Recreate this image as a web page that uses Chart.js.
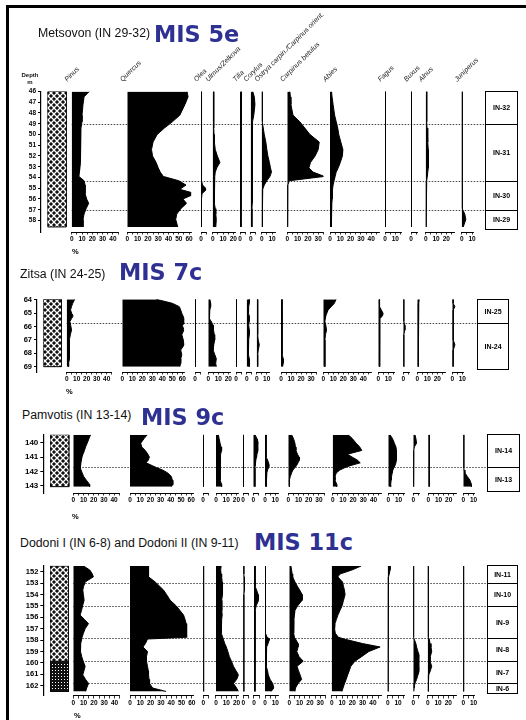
<!DOCTYPE html>
<html><head><meta charset="utf-8">
<script src="https://cdn.jsdelivr.net/npm/chart.js@4.4.1/dist/chart.umd.min.js"></script>
<style>
html,body{margin:0;padding:0;background:#fff;}
body{width:526px;height:720px;position:relative;overflow:hidden;font-family:"Liberation Sans",Arial,sans-serif;}
#frame{position:absolute;left:6px;top:5px;width:560px;height:760px;border-top:3px solid #000;border-left:3px solid #000;box-sizing:border-box;}
canvas{position:absolute;left:0;z-index:2;}
.site{position:absolute;font-size:12.3px;line-height:14px;color:#111;white-space:nowrap;z-index:3;}
.mis{position:absolute;font-family:"DejaVu Sans",sans-serif;font-weight:bold;font-size:22.4px;line-height:26px;color:#2e3192;white-space:nowrap;z-index:3;}
.depth{position:absolute;left:20px;top:72px;width:20px;text-align:center;font-weight:bold;font-size:6px;line-height:7px;color:#111;z-index:3;}
.unit{position:absolute;font-weight:bold;font-size:7.5px;line-height:9px;color:#000;z-index:4;}
</style></head>
<body>
<div id="frame"></div>
<div class="site" style="left:38px;top:26.3px">Metsovon (IN 29-32)</div><div class="mis" style="left:154px;top:20.7px">MIS 5e</div>
<div class="site" style="left:20px;top:266.9px">Zitsa (IN 24-25)</div><div class="mis" style="left:119px;top:259px">MIS 7c</div>
<div class="site" style="left:22px;top:408.1px">Pamvotis (IN 13-14)</div><div class="mis" style="left:141px;top:404px">MIS 9c</div>
<div class="site" style="left:20px;top:535.9px">Dodoni I (IN 6-8) and Dodoni II (IN 9-11)</div><div class="mis" style="left:254px;top:529px">MIS 11c</div>
<div class="depth">Depth<br>m</div>
<script>
// ---------- taxa & axis ticks ----------
const TAXA = ['Pinus','Quercus','Olea','Ulmus/Zelkova','Tilia','Corylus','Ostrya carpin./Carpinus orient.','Carpinus betulus','Abies','Fagus','Buxus','Alnus','Juniperus'];
const AXIS_MAX = [45,62,5,22,5,5,13,35,48,16,6,28,11];
const AXIS_LABELS = [[0,10,20,30,40],[0,10,20,30,40,50,60],[0],[0,10,20],[0],[0],[0,10],[0,10,20,30],[0,10,20,30,40],[0,10],[0],[0,10,20],[0,10]];
const UNIT_LABEL = '%';

// ---------- Metsovon (MIS 5e) ----------
const metsovonDepthTicks = [46,47,48,49,50,51,52,53,54,55,56,57,58];
const metsovonDepths = [46.0,46.5,47.2,48.2,48.8,49.4,50.0,50.7,51.4,52.0,52.6,53.1,53.5,53.9,54.3,54.7,55.1,55.5,56.0,56.4,56.9,57.4,57.9,58.6];
const metsovonPinus = [17,12,11,10,10,9,8.5,8.5,8.5,8.5,8.5,8,7.5,7,12,13,13,13,14.5,16.5,14,12,11,11];
const metsovonQuercus = [58,59,56,51,44,36,29,25,23.5,24.5,28,30,32,35,50,57,51,66,54,57.5,52,48,47,49];
const metsovonOlea = [0.5,0.5,0.5,0.5,0.5,0.5,0.5,0.5,0.5,0.5,0.5,0.5,0.5,0.5,0.6,1.5,5.5,1,0.5,0.5,0.5,0.5,0.5,0.5];
const metsovonUlmus = [1,1,1,1,1,1,1.3,1.6,2.5,4.5,7,4,2.5,2,1.5,1.5,1.5,1.5,1.5,2,2.5,3,3.5,3];
const metsovonTilia = [1.5,1.5,1.3,1.2,1,1,1,1,1,1,1,1,1,1,1,1,1,1,1,1,1,1,1,1];
const metsovonCorylus = [2,3.5,4.2,3,1.8,1.5,1.5,1.5,1.5,1.5,1.5,1.5,1.5,1.5,1.5,1.5,1.5,1.5,1.5,1.5,1.2,1.2,1.2,1.2];
const metsovonOstrya = [0.5,0.5,0.5,0.5,0.5,1.5,2.5,4,5,6,7.5,8.5,9.5,8,5,2.5,1,0.6,0.5,0.5,0.5,0.5,0.5,0.5];
const metsovonCarpinus = [2.5,3,3.5,5.5,12,17,22,31,30,27,22.5,21,25,36,2,0.5,0.3,0.3,0.3,0.3,0.3,0.3,0.3,0.3];
const metsovonAbies = [1.5,2,3,4.5,6,7.5,8.5,10.5,12.5,12,10,8,6,5,4,3,2.5,2.3,2,1.8,1.6,1.5,1.2,1];
const metsovonFagus = [0.5,0.5,0.5,0.5,0.5,0.5,0.5,0.5,0.5,0.5,0.5,0.5,0.5,0.5,0.5,0.5,0.5,0.5,0.5,0.5,0.5,0.5,0.5,0.5];
const metsovonBuxus = [0.3,0.3,0.3,0.3,0.3,0.3,0.3,0.3,0.3,0.3,0.3,0.3,0.3,0.3,0.3,0.3,0.3,0.3,0.3,0.3,0.3,0.3,0.3,0.3];
const metsovonAlnus = [1,1,1,1,1,1.3,1.8,2.2,2.5,2.5,2.6,2.5,2,1.5,1,0.5,0.3,0.3,0.3,0.3,0.3,0.3,0.3,0.3];
const metsovonJuniperus = [0.5,0.5,0.5,0.5,0.5,0.5,0.5,0.5,0.5,0.5,0.5,0.5,0.5,0.5,0.5,0.5,0.5,0.5,0.5,0.5,0.8,3,4,1.5];
const metsovonZoneEdges = [46.0,49.0,54.3,57.05,58.75];
const metsovonZoneLabels = ['IN-32','IN-31','IN-30','IN-29'];
const metsovonLithEdges = [46.0,58.6];
const metsovonLithTypes = ['A'];

// ---------- Zitsa (MIS 7c) ----------
const zitsaDepthTicks = [64,65,66,67,68,69];
const zitsaDepths = [63.95,64.25,64.5,64.75,65.0,65.2,65.4,65.62,65.9,66.25,66.6,67.0,67.35,67.75,68.1,68.4,68.75,69.0];
const zitsaPinus = [8,6,4.8,3.8,5,6.4,4.8,3.2,4,4.8,3.7,2.6,2.9,3.2,2.7,2.3,1.9,1.9];
const zitsaQuercus = [34,50,57,58.4,59.5,60.7,62,64,60,61.6,59.5,61,62,58.4,59.5,58.5,58.4,57.5];
const zitsaOlea = [0.5,0.5,0.5,0.5,0.5,0.5,0.5,0.5,0.5,0.5,0.5,0.5,0.5,0.5,0.5,0.5,0.5,0.5];
const zitsaUlmus = [1.6,2.3,2.3,1.5,1,1,1.5,3,4.8,5.2,6,6.4,5.5,4.8,6.5,8,7.4,8];
const zitsaTilia = [0.5,0.5,0.5,0.5,0.5,0.5,0.5,0.5,0.5,0.5,0.5,0.5,0.5,0.5,0.5,0.5,0.5,0.5];
const zitsaCorylus = [2.6,2.6,2,1.6,2,2.5,2.6,2.3,2,2.6,2.6,2,1.6,1.6,2,2.6,2.6,2.6];
const zitsaOstrya = [1,1,1,1,1,1,1,1,1,1,1,1.5,2.6,1.6,1,1,1,1];
const zitsaCarpinus = [1,1,1,1,1,1,1.2,1.6,1.6,1.2,1,1,1,1,1.5,2.2,2.2,1.6];
const zitsaAbies = [12.8,11,8,4.8,3.5,2.5,2,1.6,2.5,3.2,2.2,1.6,1.6,1.6,1.6,1.6,1.6,1.6];
const zitsaFagus = [1,1,1.5,3,4.8,4.2,1.5,1,1,1.2,1.4,1.6,1.4,1.5,1.5,1.5,1.5,1.5];
const zitsaBuxus = [0.5,0.5,0.5,0.5,0.5,0.5,0.5,0.5,1.6,1.6,0.5,0.5,0.5,0.5,0.5,0.5,0.5,0.5];
const zitsaAlnus = [1.9,1.5,1,1,1,1,1,1,1,1,1,1,1,1,1,1,1,1];
const zitsaJuniperus = [0.8,0.8,2.6,1,0.8,0.8,0.8,0.8,0.8,0.8,0.8,1.5,2.6,1,0.8,0.8,0.8,0.8];
const zitsaZoneEdges = [63.95,65.75,69.2];
const zitsaZoneLabels = ['IN-25','IN-24'];
const zitsaLithEdges = [63.95,69.0];
const zitsaLithTypes = ['A'];

// ---------- Pamvotis (MIS 9c) ----------
const pamvotisDepthTicks = [140,141,142,143];
const pamvotisDepths = [139.45,139.7,140.04,140.3,140.54,140.8,141.0,141.2,141.4,141.6,141.73,141.9,142.1,142.35,142.6,142.9,143.05];
const pamvotisPinus = [17,15.5,13.6,12,11,9.5,8.5,8,7.5,7,6.8,7.6,8.7,10.2,12.8,16,16];
const pamvotisQuercus = [17,14,10.5,11.5,15,17.5,19,18,15.8,22,26,32,37,40.6,41.5,42,40.5];
const pamvotisOlea = [0.3,0.3,0.3,0.3,0.3,0.3,0.3,0.3,0.3,0.3,0.3,0.3,0.3,0.3,0.3,0.3,0.3];
const pamvotisUlmus = [2.3,3,4,5,5.5,4.5,4,4,4,4,4,4,4,4,4.5,5.5,5.5];
const pamvotisTilia = [0.5,0.5,0.5,0.5,0.5,0.5,0.5,0.5,0.5,0.5,0.5,0.5,0.5,0.5,0.5,0.5,0.5];
const pamvotisCorylus = [1.6,3.5,5.5,6.5,5,3.5,3.2,2.5,2,1.8,1.6,1.6,1.6,1.6,1.6,1.6,1.6];
const pamvotisOstrya = [1,1,1,1,1,1.2,1.6,2.5,3.5,4.2,3.5,2.5,1.8,1.6,1.2,1,1];
const pamvotisCarpinus = [3.2,5,6.5,7,7.5,9,10.5,11,9.5,8,6.5,4.5,3.2,2,1,1.2,1.2];
const pamvotisAbies = [15,19,23,26.5,28.5,14.5,19,24,27,17,12,7,3.5,2.3,2.3,4,3.9];
const pamvotisFagus = [1.6,4,6,7.5,8,8,8,7.8,7.5,6.5,5.5,4.5,3.8,3.2,2.8,2.3,2.3];
const pamvotisBuxus = [1.6,2.5,3.2,1,0.5,0.3,0.3,0.3,0.3,0.3,0.3,0.3,0.3,0.3,0.3,0.3,0.3];
const pamvotisAlnus = [1,1.3,1.6,1.2,0.8,0.8,0.8,0.8,0.8,0.8,0.8,0.8,0.8,0.8,0.8,0.8,0.8];
const pamvotisJuniperus = [0.5,0.5,0.5,0.5,0.5,0.5,0.5,0.5,0.5,0.5,0.5,0.8,1.6,4,6.5,8,8];
const pamvotisZoneEdges = [139.4,141.7,143.33];
const pamvotisZoneLabels = ['IN-14','IN-13'];
const pamvotisLithEdges = [139.45,143.05];
const pamvotisLithTypes = ['A'];

// ---------- Dodoni (MIS 11c) ----------
const dodoniDepthTicks = [152,153,154,155,156,157,158,159,160,161,162];
const dodoniDepths = [151.5,151.85,152.2,152.45,152.9,153.3,153.6,154.0,154.5,155.0,155.4,155.8,156.2,156.55,157.0,157.4,157.75,157.9,158.3,158.6,159.0,159.45,159.85,160.3,160.7,161.05,161.45,161.8,162.2,162.5];
const dodoniPinus = [10,16,18.5,19.5,11.5,10,9.2,9.8,10.5,9,8,6.6,11,14.8,11.5,9.8,8.5,8.2,7.2,6.6,7.4,8.2,9.6,11.5,10.3,9.2,12,14.8,13,12];
const dodoniQuercus = [18,18,18,18,24.5,29,32.5,35.5,39,45,48.5,52,53.5,54.5,55,55,55,17,15,12.6,17,16,16,17,17.8,18,18.5,19,22,35];
const dodoniOlea = [0.3,0.3,0.3,0.3,0.3,0.3,0.3,0.3,0.3,0.3,0.3,0.3,0.3,0.3,0.3,0.3,0.3,0.3,0.3,0.3,0.3,0.3,0.3,0.3,0.3,0.3,0.3,0.3,0.3,0.3];
const dodoniUlmus = [5,4.5,5,5.5,6,6.5,6.5,6,5.5,5.5,5.8,6,5.5,5,5,5.5,6.5,7,8.5,10,11.5,13,15,17,19.5,22,20,17,20,22];
const dodoniTilia = [0.5,0.5,0.5,0.8,1.5,1.2,0.8,0.5,0.5,0.5,0.5,0.5,0.5,0.5,0.5,0.5,0.5,0.5,0.5,0.5,0.5,0.5,0.5,0.5,0.5,0.5,0.5,0.5,0.5,0.5];
const dodoniCorylus = [1,1,1,1,1.2,1.5,2.5,4,4.5,2,1.2,1,1,1,1,1,1,1,1,1,1,1,1,1,1,1,1,1,1,1];
const dodoniOstrya = [0.5,0.5,0.5,0.5,0.5,0.5,0.5,0.5,0.5,0.5,0.5,0.5,0.5,0.5,0.5,0.5,2,4.5,3,1.6,1.2,1,1.2,1.5,2.5,3.2,5,7.5,8.5,6];
const dodoniCarpinus = [1.6,2.2,2.8,3.3,5.5,8,10,12.5,12.5,8,5.5,5,4.5,4.2,4,4.5,5,6,8.5,8.5,7.3,9.5,13.5,7.5,9,10.5,12,8.5,6,5.5];
const dodoniAbies = [28.5,19.5,8,6,10.5,11.5,12.3,13,11.5,10,8,6,4.5,3.2,2.8,3.5,6.5,12,30,47,36,29,22.5,18.5,17,15.5,14,12.5,11,10];
const dodoniFagus = [2.3,2.3,1.5,0.8,0.3,0.3,0.3,0.3,0.3,0.3,0.3,0.3,0.3,0.3,0.3,0.3,0.3,0.3,0.3,0.3,0.3,0.3,0.3,0.3,0.3,0.3,0.3,0.3,0.3,0.3];
const dodoniBuxus = [0.3,0.3,0.3,0.3,0.3,0.3,0.3,0.3,0.3,0.3,0.3,0.3,0.3,0.3,0.3,0.3,0.3,0.8,2.5,3.2,4.5,6.5,8,7,6,4.5,3.2,1.5,0.8,0.5];
const dodoniAlnus = [0.5,0.5,0.5,0.5,0.5,0.5,0.5,0.5,0.5,0.5,0.5,0.5,0.5,0.5,0.5,0.5,0.5,1.5,2.3,3.2,3.9,2.5,2.3,3.9,2.5,1,0.6,0.5,0.5,0.5];
const dodoniJuniperus = [0.3,0.3,0.3,0.3,0.3,0.3,0.3,0.3,0.3,0.3,0.3,0.3,0.3,0.3,0.3,0.3,0.3,0.3,0.3,0.3,0.3,0.3,0.3,0.3,0.3,0.3,0.3,0.3,0.3,0.3];
const dodoniZoneEdges = [151.4,153.0,155.0,157.8,159.85,161.8,162.6];
const dodoniZoneLabels = ['IN-11','IN-10','IN-9','IN-8','IN-7','IN-6'];
const dodoniLithEdges = [151.5,159.85,162.5];
const dodoniLithTypes = ['A','B'];

// ---------- layout (pixels, styles) ----------
const FAMILY = '"Liberation Sans", Arial, sans-serif';
const PANELS = [
  {key:'metsovon', depths:metsovonDepths, depthTicks:metsovonDepthTicks,
   values:[metsovonPinus,metsovonQuercus,metsovonOlea,metsovonUlmus,metsovonTilia,metsovonCorylus,metsovonOstrya,metsovonCarpinus,metsovonAbies,metsovonFagus,metsovonBuxus,metsovonAlnus,metsovonJuniperus],
   zoneEdges:metsovonZoneEdges, zoneLabels:metsovonZoneLabels, lithEdges:metsovonLithEdges, lithTypes:metsovonLithTypes,
   layout:{top:0,height:256,padTop:0,topH:91.5,bottomH:24,unit:[72,246.5],yMin:46.0,yMax:59.07,axisX:41,lith:[47.5,66.5],
     base:[71.7,127.3,201,212.7,240,250.7,261.7,287.3,330,385,411,425.7,461.7],ppp:1.03,zone:[485,517.7],labels:true,depthFont:6.5}},
  {key:'zitsa', depths:zitsaDepths, depthTicks:zitsaDepthTicks,
   values:[zitsaPinus,zitsaQuercus,zitsaOlea,zitsaUlmus,zitsaTilia,zitsaCorylus,zitsaOstrya,zitsaCarpinus,zitsaAbies,zitsaFagus,zitsaBuxus,zitsaAlnus,zitsaJuniperus],
   zoneEdges:zitsaZoneEdges, zoneLabels:zitsaZoneLabels, lithEdges:zitsaLithEdges, lithTypes:zitsaLithTypes,
   layout:{top:280,height:117,padTop:19.3,bottomH:25,unit:[66,387],yMin:63.95,yMax:69.40,axisX:37,lith:[43.3,61.7],
     base:[66.7,122.3,195,208.3,236,246.7,256.7,281,323.3,378.3,403.3,417.3,452.3],ppp:1.0,zone:[476.7,509],labels:false,depthFont:7.5}},
  {key:'pamvotis', depths:pamvotisDepths, depthTicks:pamvotisDepthTicks,
   values:[pamvotisPinus,pamvotisQuercus,pamvotisOlea,pamvotisUlmus,pamvotisTilia,pamvotisCorylus,pamvotisOstrya,pamvotisCarpinus,pamvotisAbies,pamvotisFagus,pamvotisBuxus,pamvotisAlnus,pamvotisJuniperus],
   zoneEdges:pamvotisZoneEdges, zoneLabels:pamvotisZoneLabels, lithEdges:pamvotisLithEdges, lithTypes:pamvotisLithTypes,
   layout:{top:425,height:96,padTop:9.7,bottomH:28,unit:[72,511.5],yMin:139.45,yMax:143.49,axisX:43.3,lith:[50,69.3],
     base:[73.3,130,203,216,243,253.3,265,288.3,332.7,388.3,413.3,428.3,463.3],ppp:1.02,zone:[486.7,520],labels:false,depthFont:8}},
  {key:'dodoni', depths:dodoniDepths, depthTicks:dodoniDepthTicks,
   values:[dodoniPinus,dodoniQuercus,dodoniOlea,dodoniUlmus,dodoniTilia,dodoniCorylus,dodoniOstrya,dodoniCarpinus,dodoniAbies,dodoniFagus,dodoniBuxus,dodoniAlnus,dodoniJuniperus],
   zoneEdges:dodoniZoneEdges, zoneLabels:dodoniZoneLabels, lithEdges:dodoniLithEdges, lithTypes:dodoniLithTypes,
   layout:{top:555,height:165,padTop:10.7,bottomH:24,unit:[74,711],yMin:151.47,yMax:162.9,axisX:43.3,lith:[50,69],
     base:[73.3,130,203.3,216,243.3,254,265,289.3,331.7,387.7,413.3,427.7,463.3],ppp:1.03,zone:[486.7,518.3],labels:false,depthFont:7.5}}
];

function makePatterns(ctx) {
  const a = document.createElement('canvas'); a.width = 6; a.height = 6;
  const g = a.getContext('2d');
  g.fillStyle = '#111'; g.fillRect(0,0,6,6);
  g.strokeStyle = '#fff'; g.lineWidth = 1.3;
  g.beginPath(); g.moveTo(-1,-1); g.lineTo(7,7); g.moveTo(7,-1); g.lineTo(-1,7); g.stroke();
  const b = document.createElement('canvas'); b.width = 3; b.height = 3;
  const h = b.getContext('2d');
  h.fillStyle = '#111'; h.fillRect(0,0,3,3); h.fillStyle = '#fff'; h.fillRect(1,1,1,1);
  return {A: ctx.createPattern(a,'repeat'), B: ctx.createPattern(b,'repeat')};
}

function zeroPad(s){ s.paddingLeft = 0; s.paddingRight = 0; s.paddingTop = 0; s.paddingBottom = 0; }

function makeZonePlugin(P, fromId, zoneId) {
  return {
    id: 'zoneBox',
    beforeDatasetsDraw(chart) {
      const ctx = chart.ctx, y = chart.scales.y;
      const x0 = chart.scales[fromId].left, x1 = chart.scales[zoneId].left;
      ctx.save(); ctx.strokeStyle = '#444'; ctx.lineWidth = 1; ctx.setLineDash([1.5,1.5]);
      P.zoneEdges.slice(1,-1).forEach(v => {
        const py = Math.round(y.getPixelForValue(v)) + 0.5;
        ctx.beginPath(); ctx.moveTo(x0, py); ctx.lineTo(x1, py); ctx.stroke();
      });
      ctx.restore();
    },
    afterDatasetsDraw(chart) {
      const ctx = chart.ctx, y = chart.scales.y, zs = chart.scales[zoneId];
      const l = Math.round(zs.left) + 0.5, r = Math.round(zs.right) - 0.5;
      const ys = P.zoneEdges.map(v => Math.round(y.getPixelForValue(v)) + 0.5);
      ctx.save(); ctx.strokeStyle = '#000'; ctx.lineWidth = 1;
      ctx.strokeRect(l, ys[0], r - l, ys[ys.length-1] - ys[0]);
      ys.slice(1,-1).forEach(py => { ctx.beginPath(); ctx.moveTo(l, py); ctx.lineTo(r, py); ctx.stroke(); });
      ctx.fillStyle = '#000'; ctx.font = 'bold 7px ' + FAMILY; ctx.textAlign = 'center'; ctx.textBaseline = 'middle';
      P.zoneLabels.forEach((t,i) => ctx.fillText(t, (l + r) / 2, (ys[i] + ys[i+1]) / 2 + 0.5));
      ctx.restore();
    }
  };
}

function buildPanel(P) {
  const L = P.layout;
  const canvas = document.createElement('canvas');
  canvas.width = 526; canvas.height = L.height; canvas.style.top = L.top + 'px';
  document.body.appendChild(canvas);
  const ctx = canvas.getContext('2d');
  const patterns = makePatterns(ctx);

  const unit = document.createElement('div');
  unit.className = 'unit'; unit.textContent = UNIT_LABEL;
  unit.style.left = L.unit[0] + 'px'; unit.style.top = L.unit[1] + 'px';
  document.body.appendChild(unit);

  const cols = [];
  let cursor = L.axisX;
  const gap = to => { if (to - cursor > 0.01) cols.push({kind:'gap', w: to - cursor}); cursor = to; };
  gap(L.lith[0]); cols.push({kind:'lith', w: L.lith[1] - L.lith[0]}); cursor = L.lith[1];
  TAXA.forEach((n,i) => { gap(L.base[i]); const w = AXIS_MAX[i] * L.ppp; cols.push({kind:'taxon', i, w}); cursor += w; });
  gap(L.zone[0]); cols.push({kind:'zone', w: L.zone[1] - L.zone[0]}); cursor = L.zone[1];

  const bottomFit = s => { s.height = L.bottomH; zeroPad(s); };
  const topFit = s => { s.height = L.topH; zeroPad(s); };

  const scales = {};
  scales.y = {
    type:'linear', axis:'y', position:'left', reverse:true, min:L.yMin, max:L.yMax,
    afterBuildTicks: s => { s.ticks = P.depthTicks.map(v => ({value:v})); },
    afterFit: s => { s.width = L.axisX; zeroPad(s); },
    ticks:{autoSkip:false, padding:2, color:'#000', font:{family:FAMILY, size:L.depthFont, weight:'bold'}},
    grid:{drawOnChartArea:false, drawTicks:true, tickLength:3, color:'#000', lineWidth:1},
    border:{display:true, color:'#000', width:1.2}
  };
  cols.forEach((c,k) => {
    c.id = 'b' + k;
    const max = c.kind === 'taxon' ? AXIS_MAX[c.i] : 1;
    if (c.kind !== 'taxon') {
      scales[c.id] = {type:'linear', axis:'x', position:'bottom', stack:'cols', stackWeight:c.w, min:0, max, display:false, afterFit: bottomFit};
      return;
    }
    const i = c.i;
    scales[c.id] = {
      type:'linear', axis:'x', position:'bottom', stack:'cols', stackWeight:c.w, min:0, max,
      afterBuildTicks: s => { const t = []; for (let v = 0; v <= AXIS_MAX[i] + 1e-9; v += 5) t.push({value:v}); s.ticks = t; },
      afterFit: bottomFit,
      ticks:{autoSkip:false, minRotation:0, maxRotation:0, padding:1, color:'#000',
        font:{family:FAMILY, size:6.5, weight:'bold'},
        callback: v => AXIS_LABELS[i].includes(v) ? String(v) : ''},
      grid:{drawOnChartArea:false, drawTicks:true, tickLength:2.5, color:'#000', lineWidth:0.8},
      border:{display:true, color:'#000', width:1}
    };
  });
  if (L.labels) {
    for (let k = cols.length - 1; k >= 0; k--) {
      const c = cols[k];
      const max = c.kind === 'taxon' ? AXIS_MAX[c.i] : 1;
      if (c.kind !== 'taxon') {
        scales['t' + k] = {type:'linear', axis:'x', position:'top', stack:'cols', stackWeight:c.w, min:0, max, display:false, afterFit: topFit};
        continue;
      }
      const name = TAXA[c.i];
      scales['t' + k] = {
        type:'linear', axis:'x', position:'top', stack:'cols', stackWeight:c.w, min:0, max,
        afterBuildTicks: s => { s.ticks = [{value:0}]; },
        afterFit: topFit,
        grid:{display:false, drawTicks:false}, border:{display:false},
        ticks:{autoSkip:false, minRotation:45, maxRotation:45, padding:8, color:'#222',
          font:{family:FAMILY, size:7, style:'italic'}, callback: () => name}
      };
    }
  }

  const datasets = [];
  const lithId = cols.find(c => c.kind === 'lith').id;
  P.lithTypes.forEach((t,j) => {
    const top = P.lithEdges[j], bot = P.lithEdges[j+1];
    datasets.push({type:'line', indexAxis:'y', xAxisID:lithId, yAxisID:'y',
      data:[{x:0,y:top},{x:1,y:top},{x:1,y:bot},{x:0,y:bot},{x:0,y:top}],
      fill:'shape', backgroundColor:patterns[t], borderColor:'#000', borderWidth:1, pointRadius:0, tension:0});
  });
  TAXA.forEach((n,i) => {
    const id = cols.find(c => c.kind === 'taxon' && c.i === i).id;
    datasets.push({type:'line', label:n, indexAxis:'y', xAxisID:id, yAxisID:'y',
      data: P.depths.map((d,j) => ({x:P.values[i][j], y:d})),
      fill:'origin', backgroundColor:'#000', borderColor:'#000', borderWidth:1, pointRadius:0, tension:0});
  });

  const fromId = cols.find(c => c.kind === 'taxon' && c.i === 0).id;
  const zoneId = cols.find(c => c.kind === 'zone').id;
  new Chart(ctx, {
    type:'line',
    data:{datasets},
    options:{
      responsive:false, animation:false, devicePixelRatio:1, indexAxis:'y', events:[],
      layout:{autoPadding:false, padding:{top:L.padTop, left:0, right:526 - L.zone[1], bottom:0}},
      plugins:{legend:{display:false}, tooltip:{enabled:false}, title:{display:false}},
      scales
    },
    plugins:[makeZonePlugin(P, fromId, zoneId)]
  });
}

PANELS.forEach(buildPanel);
</script>
</body></html>
